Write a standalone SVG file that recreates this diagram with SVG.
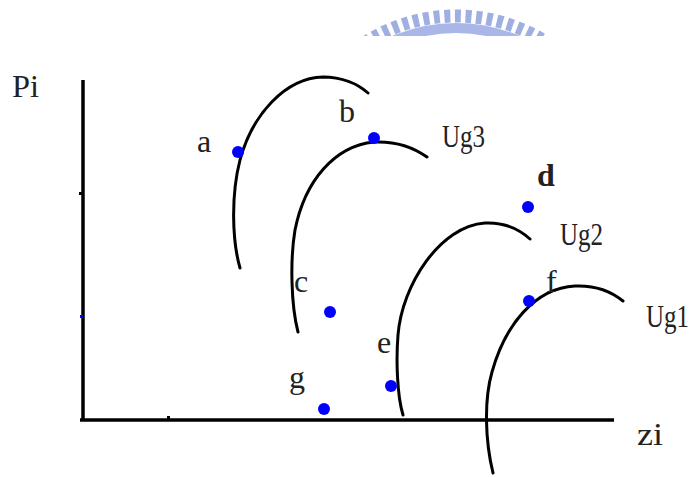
<svg xmlns="http://www.w3.org/2000/svg" width="694" height="477" viewBox="0 0 694 477">
<style>
.lbl{font-family:"Liberation Serif","DejaVu Serif",serif;font-size:32px;fill:#222;}
.ug{font-family:"Liberation Serif","DejaVu Serif",serif;font-size:25px;fill:#222;}
.arc{fill:none;stroke:#000;stroke-width:3;stroke-linecap:round;}
.axis{fill:none;stroke:#000;stroke-width:3.5;}
.dot{fill:#0000ff;}
</style>
<defs>
<clipPath id="wm"><rect x="300" y="0" width="300" height="36"/></clipPath>
</defs>
<rect width="694" height="477" fill="#fff"/>
<g id="watermark" clip-path="url(#wm)" opacity="0.85">
<circle cx="456" cy="185" r="169" fill="none" stroke="#8fa2de" stroke-width="13" stroke-dasharray="6 4.6"/>
<circle cx="456" cy="185" r="157" fill="none" stroke="#9aabe3" stroke-width="10"/>
</g>
<g id="axes">
<line class="axis" x1="83" y1="80" x2="83" y2="421"/>
<line class="axis" x1="80" y1="420" x2="614" y2="420"/>
<rect x="79" y="192" width="3" height="3" fill="#000"/>
<rect x="80" y="315" width="3" height="3" fill="#0000ff"/>
<rect x="167" y="416" width="3" height="3" fill="#000"/>
<text class="lbl" x="12" y="97" textLength="27" lengthAdjust="spacingAndGlyphs">Pi</text>
<text class="lbl" x="637" y="445" textLength="26" lengthAdjust="spacingAndGlyphs">zi</text>
</g>
<g id="curves">
<path class="arc" d="M240,268 C232,240 231,195 240,160 C252,115 285,78 323,77 C342,77 358,84 368,93"/>
<path class="arc" d="M298,332 C291,305 290,260 295,230 C305,180 335,146 374,142 C395,141 413,147 427,157"/>
<path class="arc" d="M403,415 C397,395 396,360 398,335 C402,285 440,226 485,223 C505,222 520,230 530,239"/>
<path class="arc" d="M493,473 C485,440 484,400 492,372 C505,325 535,288 575,286 C598,285 612,292 623,301"/>
</g>
<g id="curve-labels">
<text class="ug" transform="translate(442,147) scale(1,1.3)">Ug3</text>
<text class="ug" transform="translate(560,245) scale(1,1.3)">Ug2</text>
<text class="ug" transform="translate(646,327) scale(1,1.3)">Ug1</text>
</g>
<g id="point-a"><circle class="dot" cx="238" cy="152" r="6"/><text class="lbl" x="197" y="152">a</text></g>
<g id="point-b"><circle class="dot" cx="374" cy="138" r="6"/><text class="lbl" x="339" y="122">b</text></g>
<g id="point-c"><circle class="dot" cx="330" cy="312" r="6"/><text class="lbl" x="294" y="292">c</text></g>
<g id="point-d"><circle class="dot" cx="528" cy="207" r="6"/><text class="lbl" x="537" y="186" font-weight="bold">d</text></g>
<g id="point-e"><circle class="dot" cx="391" cy="386" r="6"/><text class="lbl" x="377" y="353">e</text></g>
<g id="point-f"><circle class="dot" cx="529" cy="301" r="6"/><text class="lbl" x="546" y="292">f</text></g>
<g id="point-g"><circle class="dot" cx="324" cy="409" r="6"/><text class="lbl" x="289" y="388">g</text></g>
</svg>
